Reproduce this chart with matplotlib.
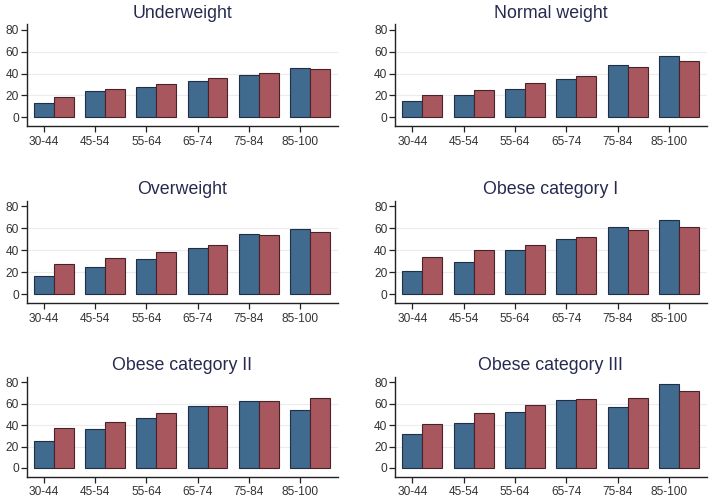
import matplotlib
matplotlib.use("Agg")
import matplotlib.pyplot as plt
import numpy as np

plt.rcParams['font.family'] = ['Liberation Sans', 'DejaVu Sans']

age_groups = ["30-44", "45-54", "55-64", "65-74", "75-84", "85-100"]
titles = ["Underweight", "Normal weight", "Overweight",
          "Obese category I", "Obese category II", "Obese category III"]

underweight_blue = [13.1, 24.1, 27.5, 33.0, 39.1, 45.5]
underweight_red = [18.6, 26.0, 30.2, 36.3, 40.9, 44.6]
normal_blue = [14.5, 20.6, 26.2, 35.1, 47.7, 55.7]
normal_red = [20.6, 25.2, 31.4, 37.5, 46.5, 51.4]
overweight_blue = [16.4, 24.8, 32.1, 41.8, 54.2, 59.4]
overweight_red = [27.0, 33.0, 38.5, 44.5, 53.3, 56.1]
obese1_blue = [21.1, 29.6, 39.7, 50.1, 60.8, 67.2]
obese1_red = [33.3, 39.7, 44.9, 51.9, 58.3, 61.4]
obese2_blue = [25.2, 36.0, 46.5, 58.2, 62.8, 53.8]
obese2_red = [36.9, 43.1, 51.1, 57.5, 62.8, 65.5]
obese3_blue = [31.4, 42.2, 52.0, 63.7, 57.2, 78.2]
obese3_red = [41.2, 51.1, 59.1, 64.6, 65.5, 71.7]

blue_series = [underweight_blue, normal_blue, overweight_blue,
               obese1_blue, obese2_blue, obese3_blue]
red_series = [underweight_red, normal_red, overweight_red,
              obese1_red, obese2_red, obese3_red]

BLUE = "#416a8f"
RED = "#a8575f"
BLUE_EDGE = "#1f2f45"
RED_EDGE = "#4a2328"

fig = plt.figure(figsize=(7.11, 5.0), dpi=100)

lefts = [0.0375, 0.5556]
widths = [0.4375, 0.4384]
rows = [(0.748, 0.951), (0.394, 0.599), (0.047, 0.246)]

w = 0.39
x = np.arange(len(age_groups))
for k in range(6):
    r, c = divmod(k, 2)
    b, t = rows[r]
    ax = fig.add_axes([lefts[c], b, widths[c], t - b])
    ax.bar(x, blue_series[k], width=w, align='edge', color=BLUE,
           edgecolor=BLUE_EDGE, linewidth=0.8, zorder=3)
    ax.bar(x + w, red_series[k], width=w, align='edge', color=RED,
           edgecolor=RED_EDGE, linewidth=0.8, zorder=3)
    ax.set_xlim(-0.34 + w / 2, 5.74 + w / 2)
    ax.set_xticks(x + w / 2)
    ax.set_xticklabels(age_groups)
    ax.set_ylim(-8, 85)
    ax.set_yticks([0, 20, 40, 60, 80])
    for gy in [20, 40, 60]:
        ax.axhline(gy, color="#ececec", linewidth=0.8, zorder=1)
    for s in ['top', 'right']:
        ax.spines[s].set_visible(False)
    for s in ['left', 'bottom']:
        ax.spines[s].set_color("#222222")
        ax.spines[s].set_linewidth(1.0)
    ax.tick_params(axis='both', direction='out', length=4, width=0.9,
                   color="#222222", labelsize=8.6, labelcolor="#333333")
    ax.tick_params(axis='y', pad=1.5)
    ax.tick_params(axis='x', pad=3)
    ax.set_title(titles[k], fontsize=12.8, color="#262a4f", pad=5)

fig.savefig("out.png", dpi=100)
